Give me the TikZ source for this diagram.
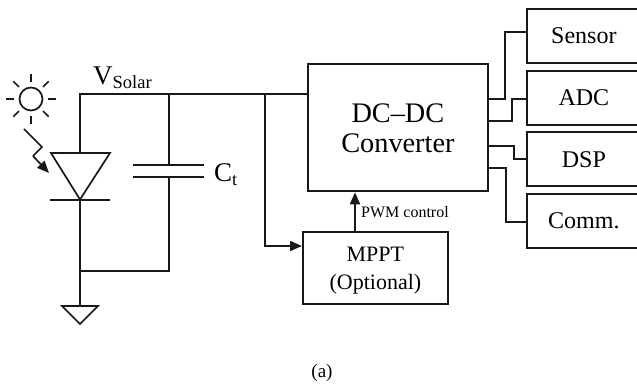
\documentclass[tikz,border=0pt]{standalone}
\usepackage{fontspec}
\setmainfont{Liberation Serif}
\usetikzlibrary{arrows.meta}
\tikzset{
  x=1pt,y=-1pt,
  wire/.style={line width=1.7pt,draw=black!90},
  blockbox/.style={draw=black!90,line width=1.8pt,inner sep=0pt,anchor=north west,align=center},
  arr/.style={wire,-{Triangle[length=12pt,width=10pt]}},
  big/.style={font=\fontsize{28.3}{30}\selectfont},
  mid/.style={font=\fontsize{24}{28}\selectfont},
  small/.style={font=\fontsize{16}{19}\selectfont}
}
\begin{document}
\begin{tikzpicture}
\useasboundingbox (0,0) rectangle (637,390);
\clip (0,0) rectangle (637,390);
% blocks
\node[blockbox,big,minimum width=180pt,minimum height=127pt,text depth=0pt] (dc) at (307,63.5) {DC–DC\\Converter};
\node[blockbox,mid,minimum width=114pt,minimum height=54pt] (sensor) at (526,8) {Sensor};
\node[blockbox,mid,minimum width=114pt,minimum height=54pt] (adc) at (526,70) {ADC};
\node[blockbox,mid,minimum width=114pt,minimum height=54pt] (dsp) at (526,131.5) {DSP};
\node[blockbox,mid,minimum width=114pt,minimum height=54pt] (comm) at (526,193) {Comm.};
\node[blockbox,font=\fontsize{22}{28}\selectfont,minimum width=145pt,minimum height=72pt] (mppt) at (302,231) {\rule{0pt}{20pt}MPPT\\(Optional)};
% output connectors
\draw[wire] (dc.east |- 0,99) -| (505,32) -- (sensor.west |- 0,32);
\draw[wire] (dc.east |- 0,121) -| (512,99) -- (adc.west |- 0,99);
\draw[wire] (dc.east |- 0,146) -| (514,159) -- (dsp.west |- 0,159);
\draw[wire] (dc.east |- 0,168) -| (506,222) -- (comm.west |- 0,222);
% coordinates
\coordinate (tl) at (80,94);
\coordinate (tc) at (169,94);
\coordinate (tj) at (265,94);
\coordinate (bl) at (80,271);
\coordinate (bc) at (169,271);
\coordinate (dtop) at (80,153);
\coordinate (dbot) at (80,199.5);
\coordinate (gnd) at (80,306);
\coordinate (captop) at (169,165);
\coordinate (capbot) at (169,177);
% main wires
\draw[wire] (dtop) -- (tl) -- (tc) -- (tj) -- (dc.west |- tj);
\draw[wire] (captop) -- (tc);
\draw[wire] (capbot) -- (bc) -- (bl);
\draw[wire] (dbot) -- (bl) -- (gnd);
\draw[arr] (tj) |- (mppt.west |- 0,246);
\draw[arr] (mppt.north -| 355,0) -- (dc.south -| 355,0);
% diode
\draw[wire,line join=miter] (51,153) -- (110,153) -- (dbot) -- cycle;
\draw[wire] (50,200) -- (110,200);
% capacitor
\draw[wire] (133,165) -- (204,165);
\draw[wire] (133,177) -- (204,177);
% ground
\draw[wire] (62,306) -- (98,306) -- (80,324) -- cycle;
% sun
\coordinate (sun) at (31,99);
\draw[wire] (sun) circle (11.5);
\foreach \a in {0,45,...,315}
  \draw[wire] (sun) ++(\a:17) -- ++(\a:8);
% lightning
\draw[wire] (24,129) -- (42,147) -- (33,156);
\draw[arr] (33,156) -- (49,173);
% labels
\node[font=\fontsize{27}{32}\selectfont,anchor=base west,inner sep=0pt] (vs) at (93,85) {V\raisebox{-3.5pt}{\fontsize{18.5}{22}\selectfont Solar}};
\node[font=\fontsize{27}{32}\selectfont,anchor=base west,inner sep=0pt] (ct) at (214,182) {C\raisebox{-3.5pt}{\fontsize{18}{22}\selectfont t}};
\node[small,anchor=base west,inner sep=0pt] (pwm) at (361,218) {PWM control};
\node[font=\fontsize{19}{23}\selectfont,inner sep=0pt] (cap) at (322,373) {(a)};
\end{tikzpicture}
\end{document}
